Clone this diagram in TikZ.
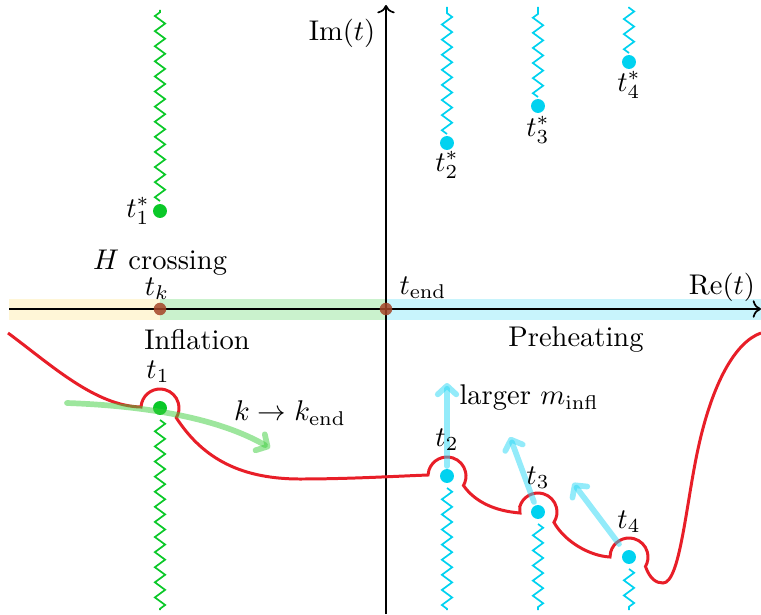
\documentclass[tikz,border=0pt]{standalone}
\usetikzlibrary{decorations.pathmorphing,calc,arrows.meta}
\definecolor{cred}{RGB}{232,30,40}
\definecolor{cgreen}{RGB}{10,200,40}
\definecolor{ccyan}{RGB}{0,210,240}
\definecolor{bandY}{RGB}{255,246,215}
\definecolor{bandG}{RGB}{202,242,205}
\definecolor{bandC}{RGB}{200,244,252}
\definecolor{cbrown}{RGB}{165,70,40}
\definecolor{agreen}{RGB}{60,205,60}
\definecolor{acyan}{RGB}{40,215,245}
\begin{document}
\begin{tikzpicture}[x=0.351pt,y=0.351pt,
  zz/.style={line width=0.6pt,decorate,decoration={zigzag,segment length=5.3pt,amplitude=1.8pt}},
  dotg/.style={circle,fill=cgreen,inner sep=0pt,minimum size=4.9pt},
  dotc/.style={circle,fill=ccyan,inner sep=0pt,minimum size=4.9pt},
  dotb/.style={circle,fill=cbrown,fill opacity=0.85,inner sep=0pt,minimum size=4.4pt},
  redc/.style={cred,line width=1.05pt},
  harrow/.style={line width=2pt,opacity=0.5,line cap=round,-{Straight Barb[length=3pt,width=6.5pt,round]}},
  lbl/.style={inner sep=0pt}]
\useasboundingbox (0,0) rectangle (761,614);
% bands
\fill[bandY] (9,294) rectangle (160,315);
\fill[bandG] (160,294) rectangle (386,315);
\fill[bandC] (386,294) rectangle (761,315);
% axes
\coordinate (rel) at (9,305);
\coordinate (rer) at (761,305);
\coordinate (imb) at (386,0);
\coordinate (imt) at (386,609);
\draw[line width=0.6pt,->] (rel) -- (rer);
\draw[line width=0.6pt,->] (imb) -- (imt);
% dots
\node[dotb] (tk) at (160,305) {};
\node[dotb] (tend) at (386,305) {};
\node[dotg] (t1s) at (160,403) {};
\node[dotg] (t1) at (160,206) {};
\node[dotc] (t2s) at (447,471) {};
\node[dotc] (t2) at (447,138) {};
\node[dotc] (t3s) at (538,508) {};
\node[dotc] (t3) at (538,102) {};
\node[dotc] (t4s) at (629,552) {};
\node[dotc] (t4) at (629,57) {};
% zigzags
\coordinate (z1t) at (160,604);
\coordinate (z1b) at (160,4);
\coordinate (z2t) at (447,607);
\coordinate (z2b) at (447,4);
\coordinate (z3t) at (538,607);
\coordinate (z3b) at (538,4);
\coordinate (z4t) at (629,607);
\coordinate (z4b) at (629,4);
\draw[zz,cgreen] ($(t1s)+(0,10)$) -- (z1t);
\draw[zz,cgreen] ($(t1)+(0,-12)$) -- (z1b);
\draw[zz,ccyan] ($(t2s)+(0,9)$) -- (z2t);
\draw[zz,ccyan] ($(t2)+(0,-12)$) -- (z2b);
\draw[zz,ccyan] ($(t3s)+(0,9)$) -- (z3t);
\draw[zz,ccyan] ($(t3)+(0,-12)$) -- (z3b);
\draw[zz,ccyan] ($(t4s)+(0,9)$) -- (z4t);
\draw[zz,ccyan] ($(t4)+(0,-12)$) -- (z4b);
% red contour
\coordinate (rs) at (8,281);
\coordinate (re) at (761,281);
\draw[redc] (rs) .. controls (50,250) and (95,208) .. (141,207)
  -- ($(t1)+(165:19)$) arc[start angle=165,end angle=-31,radius=19]
  .. controls (200,160) and (235,135) .. (300,135)
  .. controls (350,135) and (400,138) .. (428,139)
  -- ($(t2)+(162:19)$) arc[start angle=162,end angle=-30,radius=19]
  .. controls (475,112) and (495,103) .. (520,101)
  -- ($(t3)+(164:19)$) arc[start angle=164,end angle=-33,radius=19]
  .. controls (565,72) and (590,58) .. (610,57)
  -- ($(t4)+(165:19)$) arc[start angle=165,end angle=-30,radius=19]
  .. controls (650,35) and (656,31) .. (663,31)
  .. controls (680,31) and (686,110) .. (698,165)
  .. controls (712,230) and (735,272) .. (re);
% translucent arrows
\coordinate (ga) at (67,211);
\coordinate (gb) at (270,166);
\draw[harrow,color=agreen] (ga) .. controls (150,208) and (220,195) .. (gb);
\coordinate (c2a) at (447,148);
\coordinate (c2b) at (447,231);
\coordinate (c3a) at (534,112);
\coordinate (c3b) at (510,177);
\coordinate (c4a) at (619,70);
\coordinate (c4b) at (573,131);
\draw[harrow,color=acyan] (c2a) -- (c2b);
\draw[harrow,color=acyan] (c3a) -- (c3b);
\draw[harrow,color=acyan] (c4a) -- (c4b);
% labels
\node[lbl] (lhc) at (160,351) {$H$ crossing};
\node[lbl] (ltk) at (157,325) {$t_k$};
\node[lbl] (lte) at (423,326) {$t_{\mathrm{end}}$};
\node[lbl] (lre) at (722,327) {$\mathrm{Re}(t)$};
\node[lbl] (lim) at (342,581) {$\mathrm{Im}(t)$};
\node[lbl] (linf) at (197,274) {Inflation};
\node[lbl] (lpre) at (576,274) {Preheating};
\node[lbl] (lt1s) at (138,403) {$t_1^*$};
\node[lbl] (lt1) at (158,242) {$t_1$};
\node[lbl] (lk) at (290,201) {$k\to k_{\mathrm{end}}$};
\node[lbl] (lt2) at (447,174) {$t_2$};
\node[lbl] (lt3) at (538,136) {$t_3$};
\node[lbl] (lt4) at (629,92) {$t_4$};
\node[lbl] (lt2s) at (447,449) {$t_2^*$};
\node[lbl] (lt3s) at (538,484) {$t_3^*$};
\node[lbl] (lt4s) at (629,529) {$t_4^*$};
\node[lbl,anchor=west] (lm) at (459,216) {larger $m_{\mathrm{infl}}$};
\end{tikzpicture}
\end{document}
